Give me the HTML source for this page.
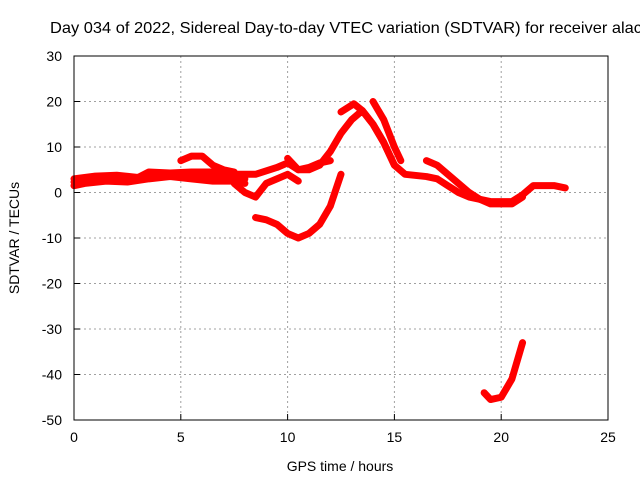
<!DOCTYPE html>
<html><head><meta charset="utf-8"><style>
body{margin:0;background:#fff;}
svg text{font-family:"Liberation Sans",sans-serif;font-size:14px;fill:#000;}
</style></head><body>
<svg width="640" height="480" xmlns="http://www.w3.org/2000/svg">
<g id="grid"></g>
<g id="plot"></g>
<rect x="74" y="56" width="534" height="364" fill="none" stroke="#000" stroke-width="1"/>
<g id="ticks"></g>
<text x="50" y="33" style="font-size:16px" textLength="592" lengthAdjust="spacingAndGlyphs">Day 034 of 2022, Sidereal Day-to-day VTEC variation (SDTVAR) for receiver alac</text>
<text x="340" y="471" text-anchor="middle">GPS time / hours</text>
<text x="0" y="0" text-anchor="middle" transform="translate(19,238) rotate(-90)">SDTVAR / TECUs</text>
</svg>
<script>
const xTicks=[0,5,10,15,20,25];
const yTicks=[30,20,10,0,-10,-20,-30,-40,-50];
const s1=[[0,1.5],[0.5,2],[1.5,2.5],[2.5,2.3],[3.5,3],[4.5,3.5],[5.5,3],[6.5,2.5],[7.5,2.5],[8,2]];
const s2=[[0,3],[1,3.6],[2,3.8],[3,3.3],[3.5,4.5],[4.5,4.3],[5.5,4.5],[6.5,4.5],[7.5,4],[8.5,4],[9.5,5.5],[10,6.5],[10.5,5],[11,5.5],[11.5,6.5],[12,7]];
const s3=[[5,7],[5.5,8],[6,8],[6.5,6],[7,5],[7.5,4.5]];
const s4=[[7.5,2],[8,0],[8.5,-1],[9,2],[9.5,3],[10,4],[10.5,2.5]];
const s5=[[10,7.5],[10.5,5],[11,5],[11.5,6],[12,9],[12.5,13],[13,16],[13.5,18],[14,15],[14.5,11],[15,6],[15.5,4],[16.5,3.5],[17,3],[17.5,1.5],[18,0],[18.5,-1],[19.5,-2],[20.5,-2],[21,-0.5],[21.5,1.5],[22.5,1.5],[23,1]];
const s6=[[12.5,17.7],[13.1,19.5],[13.5,18],[14,15],[14.5,11],[15,6]];
const s7=[[14,20],[14.5,16],[15,10],[15.3,7]];
const s8=[[16.5,7],[17,6],[17.5,4],[18,2],[18.5,0],[19,-1.5],[19.5,-2.5],[20.5,-2.5],[21,-1]];
const s9=[[8.5,-5.5],[9,-6],[9.5,-7],[10,-9],[10.5,-10],[11,-9],[11.5,-7],[12,-3],[12.5,4]];
const s10=[[19.2,-44],[19.5,-45.5],[20,-45],[20.5,-41],[21,-33]];
const s11=[[0,2.3],[1,3],[2,3.2],[3,2.8],[4,3.8],[5,3.8],[6,3.5],[7,3.2],[8,3]];
const series=[s1,s2,s3,s4,s5,s6,s7,s8,s9,s10,s11];
const X=h=>74+h*534/25, Y=v=>56+(30-v)*364/80;
const NS='http://www.w3.org/2000/svg';
const grid=document.getElementById('grid'),ticks=document.getElementById('ticks'),plot=document.getElementById('plot');
function mk(tag,attrs,parent){const e=document.createElementNS(NS,tag);for(const k in attrs)e.setAttribute(k,attrs[k]);parent.appendChild(e);return e;}
xTicks.forEach(t=>{const x=X(t);
 if(t>0&&t<25){const l=mk('line',{x1:x,x2:x,y1:56,y2:420,stroke:'#a0a0a0','stroke-dasharray':'2,3'},grid);
 }
 const tk=mk('line',{x1:x,x2:x,y1:420,y2:414,stroke:'#000'},ticks);
 
 const tt=mk('text',{x:x,y:442,'text-anchor':'middle'},ticks);tt.textContent=t;
 });
yTicks.forEach(t=>{const y=Y(t);
 if(t>-50&&t<30){const l=mk('line',{x1:74,x2:608,y1:y,y2:y,stroke:'#a0a0a0','stroke-dasharray':'2,3'},grid);
 }
 const tk=mk('line',{x1:74,x2:80,y1:y,y2:y,stroke:'#000'},ticks);
 
 const tt=mk('text',{x:62,y:y+5,'text-anchor':'end'},ticks);tt.textContent=t;
 });
series.forEach(s=>{const p=mk('polyline',{points:s.map(d=>X(d[0])+','+Y(d[1])).join(' '),fill:'none',stroke:'#ff0000','stroke-width':7,'stroke-linejoin':'round','stroke-linecap':'round'},plot);
 });
</script>
</body></html>
